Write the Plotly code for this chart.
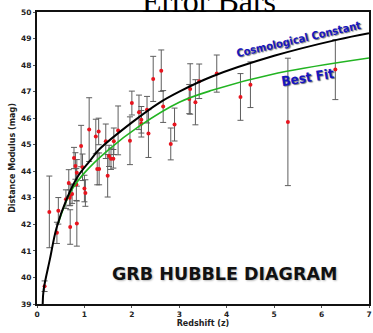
import plotly.graph_objects as go

# GRB data
z = [0.16, 0.26, 0.42, 0.45, 0.61, 0.69, 0.70, 0.84, 0.67, 0.70, 0.74, 0.81, 0.84, 0.83,
     0.78, 0.93, 0.96, 1.00, 1.02, 1.10, 1.24, 1.30, 1.27, 1.31, 1.45, 1.49, 1.52, 1.56,
     1.61, 1.62, 1.71, 1.96, 2.00, 2.15, 2.20, 2.20, 2.32, 2.35, 2.45, 2.62, 2.66, 2.82,
     2.90, 3.21, 3.23, 3.34, 3.42, 3.79, 4.29, 4.50, 5.29, 6.29]
mu = [39.67, 42.47, 41.68, 42.51, 42.95, 43.00, 41.90, 42.03, 43.56, 43.12, 43.14, 44.20, 43.94, 43.50,
      44.50, 44.95, 44.15, 43.35, 43.18, 45.57, 45.31, 45.50, 44.09, 44.09, 45.13, 43.83, 44.58, 44.47,
      44.47, 45.13, 45.54, 45.15, 46.57, 46.22, 45.94, 45.79, 46.32, 45.42, 47.48, 47.79, 46.44, 45.03,
      45.76, 46.72, 47.10, 46.60, 47.39, 47.68, 46.80, 47.26, 45.86, 47.83]
mu_err = [0.20, 1.35, 0.40, 0.50, 0.35, 0.30, 0.65, 0.85, 0.50, 0.40, 0.35, 0.50, 0.50, 0.60,
          0.40, 0.78, 0.50, 0.50, 0.50, 1.20, 0.65, 0.50, 0.60, 0.60, 0.65, 0.80, 0.40, 0.40,
          0.35, 0.50, 0.92, 0.90, 0.45, 0.65, 0.50, 0.50, 0.50, 0.90, 0.85, 0.78, 0.60, 0.60,
          0.62, 0.55, 0.95, 0.85, 0.65, 0.70, 0.88, 0.86, 2.40, 1.13]

# curves
lcdm_z = [0.12, 0.14, 0.27, 0.41, 0.62, 0.86, 1.11, 1.31, 2.01, 2.57, 3.00, 3.69, 5.00, 6.34, 7.00]
lcdm_mu = [39.0, 39.54, 40.67, 41.85, 42.93, 43.80, 44.38, 44.82, 45.85, 46.57, 47.00, 47.57, 48.35, 48.96, 49.20]
fit_z = [0.45, 0.70, 1.00, 1.50, 2.15, 3.00, 3.69, 5.08, 7.00]
fit_mu = [42.05, 43.20, 43.94, 44.80, 45.69, 46.60, 47.05, 47.70, 48.27]

x_ticks = [0, 1, 2, 3, 4, 5, 6, 7]
y_ticks = [39, 40, 41, 42, 43, 44, 45, 46, 47, 48, 49, 50]

fig = go.Figure()
fig.add_trace(go.Scatter(
    x=z, y=mu, mode="markers",
    marker=dict(color="#e8141e", size=4),
    error_y=dict(type="data", array=mu_err, visible=True, color="#5e5e5e", thickness=1, width=3),
    showlegend=False, cliponaxis=False))
fig.add_trace(go.Scatter(x=fit_z, y=fit_mu, mode="lines", line=dict(color="#22b422", width=1.6, shape="spline"),
                         showlegend=False))
fig.add_trace(go.Scatter(x=lcdm_z, y=lcdm_mu, mode="lines", line=dict(color="black", width=2, shape="spline"),
                         showlegend=False))

tickfont = dict(family="DejaVu Sans", size=7.5, color="#222", weight="bold")
fig.update_xaxes(range=[0, 7], tickvals=x_ticks, showline=True, mirror=True, linecolor="#111", linewidth=2,
                 ticks="outside", ticklen=2, tickcolor="#555", showgrid=False, zeroline=False, tickfont=tickfont,
                 title=dict(text="Redshift (z)", font=dict(family="DejaVu Sans", size=8, color="#222", weight="bold"),
                            standoff=2))
fig.update_yaxes(range=[39, 50], tickvals=y_ticks, showline=True, mirror=True, linecolor="#111", linewidth=2,
                 ticks="outside", ticklen=2, tickcolor="#555", showgrid=False, zeroline=False, tickfont=tickfont,
                 title=dict(text="Distance Modulus (mag)", font=dict(family="DejaVu Sans", size=8, color="#222", weight="bold"),
                            standoff=4))

blue = dict(family="Liberation Sans Narrow, DejaVu Sans Condensed, Liberation Sans", color="#1616c0", weight="bold",
            shadow="1px 1px 1px #777")
fig.add_annotation(x=5.52, y=48.96, text="Cosmological Constant", showarrow=False, textangle=-13,
                   font=dict(size=11, **blue))
fig.add_annotation(x=5.71, y=47.56, text="Best Fit", showarrow=False, textangle=-9,
                   font=dict(size=13.5, **blue))
fig.add_annotation(x=3.95, y=40.14, text="GRB HUBBLE DIAGRAM", showarrow=False,
                   font=dict(family="DejaVu Sans", size=17.5, color="#111", weight="bold", shadow="1px 1px 2px #bbb"))

fig.update_layout(
    width=373, height=333,
    margin=dict(l=37, r=2, t=12, b=29),
    paper_bgcolor="white", plot_bgcolor="white",
    title=dict(text="Error Bars", font=dict(family="Liberation Serif", size=32, color="black"),
               xref="paper", x=0.518, xanchor="center", yref="container", y=0.963, yanchor="bottom"),
)
fig.write_html("out.html", config={"displayModeBar": False},
               post_script="document.body.style.margin='0px';")
